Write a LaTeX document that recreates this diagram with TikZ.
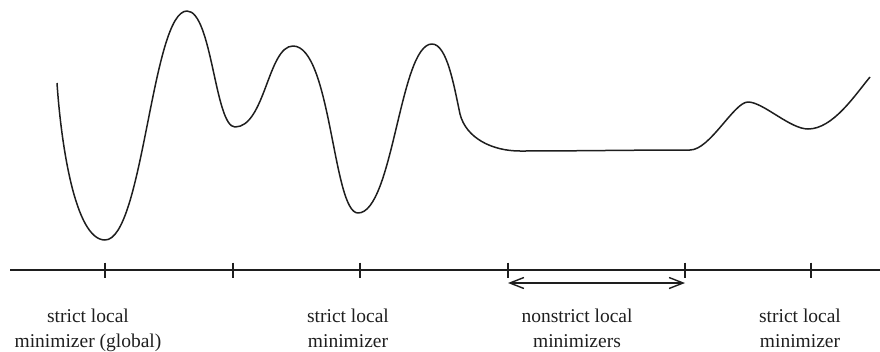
\documentclass[tikz,border=0pt]{standalone}
\usepackage{fontspec}
\setmainfont{Liberation Serif}
\usepackage{tikz}
\usetikzlibrary{arrows.meta, positioning}
\definecolor{inkgray}{RGB}{30,30,30}
\tikzset{
  curve/.style={line width=1.5pt, color=inkgray, line join=round},
  axisline/.style={line width=1.6pt, color=inkgray},
  tickmark/.style={line width=1.4pt, color=inkgray},
  span/.style={line width=1.4pt, color=inkgray, {Straight Barb[length=14pt,width=11pt]}-{Straight Barb[length=14pt,width=11pt]}},
  minlabel/.style={align=center, inner sep=0pt, text=inkgray,
    font=\fontsize{19.5}{25}\selectfont},
}
\begin{document}
\begin{tikzpicture}[x=1pt, y=-1pt]
  \useasboundingbox (0,0) rectangle (880,351);

  % --- the function ---
  \draw[curve] (57,83)
    .. controls +(4,60)  and +(-30,0) .. (105,240)
    .. controls +(38,0)  and +(-35,0) .. (187,11)
    .. controls +(25,0)  and +(-20,0) .. (235,127)
    .. controls +(30,0)  and +(-25,0) .. (293,46)
    .. controls +(38,0)  and +(-25,0) .. (358,213)
    .. controls +(35,0)  and +(-32,0) .. (432,44)
    .. controls +(15,0)  and +(-6,-28) .. (460,114)
    .. controls +(6,24)  and +(-28,0) .. (520,151)
    .. controls +(60,0)  and +(-60,0) .. (690,150)
    .. controls +(20,0)  and +(-14,0) .. (748,102)
    .. controls +(15,0)  and +(-18,0) .. (808,129)
    .. controls +(25,0)  and +(-15,18) .. (870,77);

  % --- axis and ticks ---
  \coordinate (axl) at (10,270);
  \coordinate (axr) at (880,270);
  \draw[axisline] (axl) -- (axr);
  \foreach \x/\n in {105/t1, 233/t2, 360/t3, 508/t4, 685/t5, 811/t6} {
    \coordinate (\n) at (\x,270);
    \draw[tickmark] ([yshift=7.5pt]\n) -- ([yshift=-7.5pt]\n);
  }

  % --- interval of nonstrict minimizers ---
  \draw[span] ([yshift=-13pt]t4) -- ([yshift=-13pt]t5);

  % --- labels ---
  \node (lab1) [minlabel, below=39pt of t1, xshift=-17pt] {strict local\\minimizer (global)};
  \node (lab2) [minlabel, below=39pt of t3, xshift=-12pt] {strict local\\minimizer};
  \node (lab3) [minlabel, below=39pt of t4, xshift=69pt]  {nonstrict local\\minimizers};
  \node (lab4) [minlabel, below=39pt of t6, xshift=-11pt] {strict local\\minimizer};

\end{tikzpicture}
\end{document}
